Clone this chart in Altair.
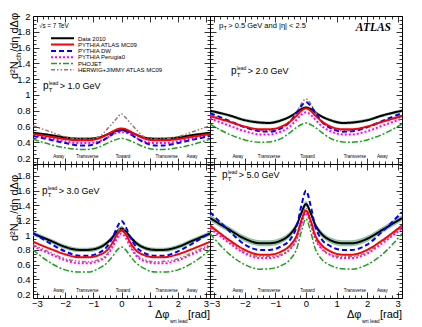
import altair as alt
import pandas as pd

# ---------------- data ----------------
PHI = [-3.14, -2.5, -2.0, -1.5, -1.2, -0.8, -0.5, -0.3, -0.15, 0.0,
       0.15, 0.3, 0.5, 0.8, 1.2, 1.5, 2.0, 2.5, 3.14]

SERIES = ["Data 2010", "PYTHIA ATLAS MC09", "PYTHIA DW", "PYTHIA Perugia0",
          "PHOJET", "HERWIG+JIMMY ATLAS MC09"]

# pT(lead) > 1.0 GeV
P1_DATA = [0.52, 0.49, 0.46, 0.445, 0.445, 0.46, 0.50, 0.53, 0.55, 0.56, 0.55, 0.53, 0.50, 0.46, 0.445, 0.445, 0.46, 0.49, 0.52]
P1_MC09 = [0.505, 0.47, 0.44, 0.425, 0.425, 0.45, 0.50, 0.54, 0.565, 0.575, 0.565, 0.54, 0.50, 0.45, 0.425, 0.425, 0.44, 0.47, 0.505]
P1_DW = [0.48, 0.43, 0.39, 0.36, 0.36, 0.40, 0.46, 0.51, 0.54, 0.55, 0.54, 0.51, 0.46, 0.40, 0.36, 0.36, 0.39, 0.43, 0.48]
P1_P0 = [0.49, 0.45, 0.41, 0.39, 0.39, 0.41, 0.46, 0.50, 0.52, 0.53, 0.52, 0.50, 0.46, 0.41, 0.39, 0.39, 0.41, 0.45, 0.49]
P1_PHO = [0.44, 0.37, 0.33, 0.31, 0.31, 0.34, 0.39, 0.42, 0.44, 0.45, 0.44, 0.42, 0.39, 0.34, 0.31, 0.31, 0.33, 0.37, 0.44]
P1_HW = [0.61, 0.53, 0.47, 0.445, 0.44, 0.47, 0.57, 0.65, 0.71, 0.76, 0.71, 0.65, 0.57, 0.47, 0.44, 0.445, 0.47, 0.53, 0.61]

# pT(lead) > 2.0 GeV
P2_DATA = [0.80, 0.74, 0.68, 0.65, 0.645, 0.68, 0.73, 0.78, 0.82, 0.84, 0.82, 0.78, 0.73, 0.68, 0.645, 0.65, 0.68, 0.74, 0.80]
P2_MC09 = [0.73, 0.66, 0.60, 0.565, 0.565, 0.60, 0.67, 0.74, 0.80, 0.83, 0.80, 0.74, 0.67, 0.60, 0.565, 0.565, 0.60, 0.66, 0.73]
P2_DW = [0.77, 0.67, 0.59, 0.54, 0.535, 0.58, 0.67, 0.78, 0.86, 0.91, 0.86, 0.78, 0.67, 0.58, 0.535, 0.54, 0.59, 0.67, 0.77]
P2_P0 = [0.70, 0.61, 0.54, 0.50, 0.50, 0.54, 0.61, 0.69, 0.75, 0.78, 0.75, 0.69, 0.61, 0.54, 0.50, 0.50, 0.54, 0.61, 0.70]
P2_PHO = [0.63, 0.50, 0.43, 0.40, 0.405, 0.45, 0.53, 0.59, 0.625, 0.645, 0.625, 0.59, 0.53, 0.45, 0.405, 0.40, 0.43, 0.50, 0.63]
P2_HW = [0.75, 0.66, 0.59, 0.55, 0.545, 0.58, 0.67, 0.79, 0.89, 0.95, 0.89, 0.79, 0.67, 0.58, 0.545, 0.55, 0.59, 0.66, 0.75]

# pT(lead) > 3.0 GeV
P3_DATA = [1.02, 0.92, 0.84, 0.80, 0.80, 0.83, 0.90, 0.98, 1.05, 1.09, 1.05, 0.98, 0.90, 0.83, 0.80, 0.80, 0.84, 0.92, 1.02]
P3_MC09 = [0.91, 0.81, 0.74, 0.70, 0.70, 0.73, 0.80, 0.91, 1.01, 1.06, 1.01, 0.91, 0.80, 0.73, 0.70, 0.70, 0.74, 0.81, 0.91]
P3_DW = [1.03, 0.88, 0.78, 0.72, 0.72, 0.76, 0.85, 0.98, 1.11, 1.19, 1.11, 0.98, 0.85, 0.76, 0.72, 0.72, 0.78, 0.88, 1.03]
P3_P0 = [0.85, 0.74, 0.66, 0.62, 0.62, 0.65, 0.73, 0.85, 0.96, 1.02, 0.96, 0.85, 0.73, 0.65, 0.62, 0.62, 0.66, 0.74, 0.85]
P3_PHO = [0.80, 0.62, 0.53, 0.50, 0.50, 0.55, 0.63, 0.72, 0.80, 0.84, 0.80, 0.72, 0.63, 0.55, 0.50, 0.50, 0.53, 0.62, 0.80]
P3_HW = [0.87, 0.76, 0.68, 0.645, 0.64, 0.67, 0.75, 0.89, 1.03, 1.11, 1.03, 0.89, 0.75, 0.67, 0.64, 0.645, 0.68, 0.76, 0.87]

# pT(lead) > 5.0 GeV
P5_DATA = [1.23, 1.07, 0.95, 0.89, 0.89, 0.93, 1.02, 1.14, 1.30, 1.42, 1.30, 1.14, 1.02, 0.93, 0.89, 0.89, 0.95, 1.07, 1.23]
P5_MC09 = [1.13, 0.93, 0.80, 0.735, 0.735, 0.78, 0.87, 1.00, 1.20, 1.33, 1.20, 1.00, 0.87, 0.78, 0.735, 0.735, 0.80, 0.93, 1.13]
P5_DW = [1.31, 1.05, 0.87, 0.80, 0.80, 0.85, 0.95, 1.12, 1.40, 1.60, 1.40, 1.12, 0.95, 0.85, 0.80, 0.80, 0.87, 1.05, 1.31]
P5_P0 = [1.09, 0.89, 0.75, 0.69, 0.69, 0.73, 0.82, 0.95, 1.15, 1.30, 1.15, 0.95, 0.82, 0.73, 0.69, 0.69, 0.75, 0.89, 1.09]
P5_PHO = [1.02, 0.74, 0.60, 0.54, 0.545, 0.59, 0.68, 0.82, 1.05, 1.22, 1.05, 0.82, 0.68, 0.59, 0.545, 0.54, 0.60, 0.74, 1.02]
P5_HW = [1.11, 0.91, 0.77, 0.71, 0.71, 0.74, 0.83, 0.97, 1.18, 1.37, 1.18, 0.97, 0.83, 0.74, 0.71, 0.71, 0.77, 0.91, 1.11]

# systematic band half-width of the data, per panel
ERR = [0.015, 0.02, 0.03, 0.04]
THRESH = ["1.0", "2.0", "3.0", "5.0"]

REGION_NAMES = ["Away", "Transverse", "Toward", "Transverse", "Away"]
REGION_PHI = [-2.23, -1.21, 0.05, 1.6, 2.5]

X_LABELS = [-3, -2, -1, 0, 1, 2, 3]
Y_LABELS_TOP = [0.2, 0.4, 0.6, 0.8, 1.0, 1.2, 1.4, 1.6, 1.8, 2.0]
Y_LABELS_BOT = [0.2, 0.4, 0.6, 0.8, 1.0, 1.2, 1.4, 1.6, 1.8]

# ---------------- styles / layout ----------------
FONT = "Liberation Sans"
COLORS = ["#000000", "#ff0000", "#0000ff", "#ff00ff", "#1f9f1f", "#a07070"]
DASHES = [[1, 0], [1, 0], [5, 3], [2, 2], [6, 2, 2, 2], [4, 2, 1.5, 2, 1.5, 2]]
WIDTHS = [2, 2, 2, 2, 1.5, 1.5]
BAND = "#93c5a5"

W_L, W_R = 177, 192
H_T, H_B = 148, 134
XDOM = [-3.1416, 3.1416]
YDOM_T = [0.125, 2.0]
YDOM_B = [0.15, 1.96]

X_TICKS = [round(-3 + 0.2 * i, 1) for i in range(31)]


def y_ticks(lo, hi):
    return [round(0.05 * k, 2) for k in range(0, 41) if lo <= round(0.05 * k, 2) <= hi]


MAJ_X = "abs(datum.value - round(datum.value)) < 0.01"
MAJ_Y = "abs(datum.value * 5 - round(datum.value * 5)) < 0.01"

CW = {' ': 0.278, '.': 0.278, '>': 0.584, '<': 0.584, '=': 0.584, '|': 0.26, '[': 0.278, ']': 0.278,
      '/': 0.278, '+': 0.584, 'a': 0.556, 'd': 0.556, 'e': 0.556, 'l': 0.222, 'n': 0.556, 'r': 0.333,
      's': 0.5, 't': 0.278, 'w': 0.722, 'p': 0.556, 'c': 0.5, 'h': 0.556, 'G': 0.778, 'V': 0.667,
      'T': 0.611, 'N': 0.722, 'A': 0.667, 'W': 0.944, 'I': 0.278, 'M': 0.833, 'J': 0.5,
      'Δ': 0.668, 'φ': 0.65, 'η': 0.55, '√': 0.55, '²': 0.333}


def tw(s, size):
    return sum(CW.get(c, 0.556 if (c.islower() or c.isdigit()) else 0.667) for c in s) * size


def tick_axis(orient, offset, values, test):
    return alt.Axis(orient=orient, offset=offset, values=values, labels=False, title=None,
                    domain=False, grid=False, ticks=True, tickColor="black", tickWidth=0.8,
                    tickSize={"condition": {"test": test, "value": 6}, "value": 3})


def ptlead(x0, yb, thr):
    out = [("p", x0, yb, 10)]
    xs = x0 + tw("p", 10) + 0.3
    out.append(("T", xs, yb + 2.5, 6))
    out.append(("lead", xs, yb - 4.5, 5))
    xr = xs + max(tw("T", 6), tw("lead", 5)) + 1.5
    out.append(("> " + thr + " GeV", xr, yb, 9))
    return out


def text_layer(pieces, **kw):
    df = pd.DataFrame(pieces, columns=["t", "px", "py", "sz"])
    return alt.Chart(df).mark_text(font=FONT, color="black", align="left",
                                   baseline="alphabetic", **kw).encode(
        text="t:N",
        x=alt.X("px:Q", scale=None, axis=None),
        y=alt.Y("py:Q", scale=None, axis=None),
        size=alt.Size("sz:Q", scale=None, legend=None),
    )


def panel(idx, vals, W, H, ydom, ylabels, show_x, show_y, pieces, extra):
    xs = alt.Scale(domain=XDOM, nice=False, zero=False)
    ys = alt.Scale(domain=ydom, nice=False, zero=False)
    yt = y_ticks(ydom[0], ydom[1])
    err = ERR[idx]
    band_df = pd.DataFrame({"phi": PHI,
                            "lo": [v - err for v in vals[0]],
                            "hi": [v + err for v in vals[0]]})
    layers = [alt.Chart(band_df).mark_area(color=BAND, interpolate="monotone").encode(
        x=alt.X("phi:Q", scale=xs, axis=tick_axis("top", -H, X_TICKS, MAJ_X)),
        y=alt.Y("lo:Q", scale=ys, axis=tick_axis("right", -W, yt, MAJ_Y)),
        y2="hi:Q")]
    order = [0, 4, 3, 5, 2, 1]
    for k in order:
        df = pd.DataFrame({"phi": PHI, "v": vals[k]})
        if k == 0:
            xa = tick_axis("bottom", -H, X_TICKS, MAJ_X)
            ya = tick_axis("left", -W, yt, MAJ_Y)
        elif k == 1:
            xa = (alt.Axis(orient="bottom", values=X_LABELS, format="d", ticks=False, domain=False,
                           grid=False, labelPadding=0, labelFontSize=9.5, title=None) if show_x else None)
            ya = (alt.Axis(orient="left", values=ylabels, format="~g", ticks=False, domain=False,
                           grid=False, labelPadding=3, labelFontSize=9.5, title=None) if show_y else None)
        else:
            xa = None
            ya = None
        layers.append(alt.Chart(df).mark_line(
            color=COLORS[k], strokeDash=DASHES[k], strokeWidth=WIDTHS[k],
            interpolate="monotone", clip=True).encode(
            x=alt.X("phi:Q", scale=xs, axis=xa),
            y=alt.Y("v:Q", scale=ys, axis=ya)))
    reg_df = pd.DataFrame({"phi": REGION_PHI, "name": REGION_NAMES})
    layers.append(alt.Chart(reg_df).mark_text(font=FONT, fontSize=4.5, color="black",
                                              baseline="alphabetic").encode(
        x=alt.X("phi:Q", scale=xs, axis=None), y=alt.value(H - 6), text="name:N"))
    layers.append(text_layer(pieces))
    layers.extend(extra)
    return alt.layer(*layers).resolve_axis(x="independent", y="independent").properties(
        width=W, height=H)


def y_title(base_py):
    px = -15
    p = [("d²N", px, base_py, 11)]
    y1 = base_py - tw("d²N", 11) - 0.5
    sub = [("ch", px + 2.5, y1, 7.5)]
    y2 = y1 - tw("ch", 7.5) - 1
    p.append(("/dη dΔφ", px, y2, 11))
    return [text_layer(p, angle=270), text_layer(sub, angle=270)]


def x_title(W):
    w_rad = tw("[rad]", 11)
    w_sub = tw("wrt lead", 5)
    w_dphi = tw("Δφ", 11)
    return [("[rad]", W - w_rad, 154, 11),
            ("wrt lead", W - w_rad - w_sub - 0.5, 158.5, 5),
            ("Δφ", W - w_rad - w_sub - w_dphi - 1, 154, 11)]


# legend (top-left panel)
leg_layers = []
leg_pieces = []
for i, name in enumerate(SERIES):
    ly = 22.3 + 6.3 * i
    leg_layers.append(alt.Chart(pd.DataFrame({"k": [i]})).mark_rule(
        color=COLORS[i], strokeDash=DASHES[i], strokeWidth=WIDTHS[i]).encode(
        x=alt.value(18), x2=alt.value(41), y=alt.value(ly)))
    leg_pieces.append((name, 45, ly + 2.2, 6))

tl_pieces = [("√s = 7 TeV", 6, 12, 6.3)] + leg_pieces + ptlead(10, 73, THRESH[0])
tl = panel(0, [P1_DATA, P1_MC09, P1_DW, P1_P0, P1_PHO, P1_HW], W_L, H_T, YDOM_T, Y_LABELS_TOP,
           False, True, tl_pieces, leg_layers + y_title(63))

tr_sub = [("p", 9, 12, 8)]
tr_x = 9 + tw("p", 8) + 0.3
tr_sub += [("T", tr_x, 14, 5), ("> 0.5  GeV and |η| < 2.5", tr_x + tw("T", 5) + 1.5, 12, 7.5)]
tr_pieces = tr_sub + ptlead(21, 58, THRESH[1])
atlas = alt.Chart(pd.DataFrame({"t": ["ATLAS"]})).mark_text(
    font="Liberation Serif", fontSize=11.5, fontWeight="bold", fontStyle="italic",
    color="black", align="right", baseline="alphabetic").encode(
    text="t:N", x=alt.value(181), y=alt.value(15))
tr = panel(1, [P2_DATA, P2_MC09, P2_DW, P2_P0, P2_PHO, P2_HW], W_R, H_T, YDOM_T, Y_LABELS_TOP,
           False, False, tr_pieces, [atlas])

bl_pieces = ptlead(9, 30, THRESH[2]) + x_title(W_L)
bl = panel(2, [P3_DATA, P3_MC09, P3_DW, P3_P0, P3_PHO, P3_HW], W_L, H_B, YDOM_B, Y_LABELS_BOT,
           True, True, bl_pieces, y_title(77))

br_pieces = ptlead(12, 14, THRESH[3]) + x_title(W_R)
br = panel(3, [P5_DATA, P5_MC09, P5_DW, P5_P0, P5_PHO, P5_HW], W_R, H_B, YDOM_B, Y_LABELS_BOT,
           True, False, br_pieces, [])

chart = alt.concat(tl, tr, bl, br, columns=2, spacing=0, bounds="flush", align="each").properties(
    padding={"left": 0, "top": 2, "right": 0, "bottom": 0}
).configure_view(stroke="black", strokeWidth=1).configure_axis(
    labelFont=FONT, labelFontSize=10, labelColor="black")

chart.save("out.html", embed_options={"renderer": "svg", "actions": False})
